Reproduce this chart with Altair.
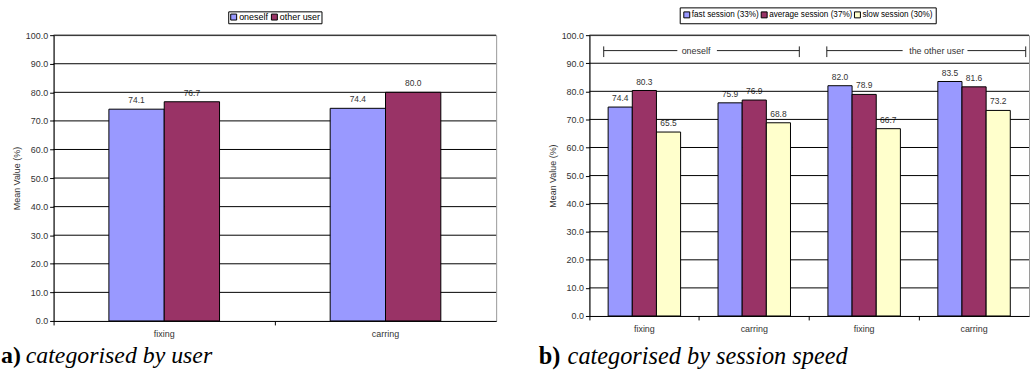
import altair as alt
import pandas as pd

SANS = "Liberation Sans"
SERIF = "Liberation Serif"

# ---- panel a: categorised by user ----
a_tasks = ["fixing", "carring"]
a_series = ["oneself", "other user"]
a_oneself = [74.1, 74.4]
a_other = [76.7, 80.0]
a_colors = ["#9999FF", "#993366"]

# ---- panel b: categorised by session speed ----
b_groups = ["oneself", "oneself", "the other user", "the other user"]
b_tasks = ["fixing", "carring", "fixing", "carring"]
b_series = ["fast session (33%)", "average session (37%)", "slow session (30%)"]
b_fast = [74.4, 75.9, 82.0, 83.5]
b_average = [80.3, 76.9, 78.9, 81.6]
b_slow = [65.5, 68.8, 66.7, 73.2]
b_colors = ["#9999FF", "#993366", "#FFFFCC"]

y_ticks = [0, 10, 20, 30, 40, 50, 60, 70, 80, 90, 100]


def long_table(cats, series, columns):
    rows = []
    for s, vals in zip(series, columns):
        for c, v in zip(cats, vals):
            rows.append({"cat": c, "series": s, "value": v})
    return pd.DataFrame(rows)


a_cats = a_tasks
a_df = long_table(a_cats, a_series, [a_oneself, a_other])

b_cats = [f"{g}|{t}" for g, t in zip(b_groups, b_tasks)]
b_df = long_table(b_cats, b_series, [b_fast, b_average, b_slow])

Y_SCALE = alt.Scale(domain=[0, 100], nice=False, zero=True)
Y_AXIS = alt.Axis(
    values=y_ticks, format=".1f", title="Mean Value (%)", grid=False,
    labelFont=SANS, labelFontSize=9, labelColor="#333", labelPadding=2,
    labelOverlap=False, labelBound=False,
    titleFont=SANS, titleFontSize=9, titleFontWeight="normal",
    titleColor="#333", titlePadding=4,
    domainColor="black", tickColor="black", tickSize=4,
)


def y_at(v):
    return alt.Y(datum=v, type="quantitative", scale=Y_SCALE, axis=Y_AXIS)


def panel(df, cats, series, colors, group_pad, legend, label_expr=None):
    x_axis = alt.Axis(
        title=None, bandPosition=0, labelAngle=0,
        labelFont=SANS, labelFontSize=9, labelColor="#333", labelPadding=5,
        domainColor="black", tickColor="black", tickSize=4,
        **({"labelExpr": label_expr} if label_expr else {}),
    )
    x_scale = alt.Scale(domain=cats, paddingInner=0, paddingOuter=0)

    def xenc(field, **kw):
        return alt.X(f"{field}:N", scale=x_scale, axis=x_axis, **kw)

    y_enc = alt.Y("value:Q", scale=Y_SCALE, axis=Y_AXIS)
    # outer padding of the series offset leaves the gap around each bar group
    xoff = alt.XOffset(
        "series:N", sort=series,
        scale=alt.Scale(domain=series, paddingInner=0,
                        paddingOuter=alt.ExprRef(str(group_pad))),
    )
    color = alt.Color(
        "series:N",
        scale=alt.Scale(domain=series, range=colors),
        legend=alt.Legend(
            title=None, orient="none", direction="horizontal",
            symbolType="square", symbolSize=36,
            symbolStrokeColor="black", symbolStrokeWidth=1,
            labelFont=SANS, labelColor="black",
            labelOffset=1, columnPadding=0,
            strokeColor="black", fillColor="white",
            **legend,
        ),
    )

    base = alt.Chart(df)
    labels = base.mark_text(
        baseline="bottom", dy=-4, font=SANS, fontSize=8.5, color="#333"
    ).encode(x=xenc("cat"), xOffset=xoff, y=y_enc,
             text=alt.Text("value:Q", format=".1f"))
    grid = alt.Chart(pd.DataFrame({"value": y_ticks[1:]})).mark_rule(
        color="black", strokeWidth=1
    ).encode(y=y_enc)
    bars = base.mark_bar(stroke="black", strokeWidth=1).encode(
        x=xenc("cat"), xOffset=xoff, y=y_enc, color=color
    )
    return [labels, grid, bars], xenc


# panel a
a_layers, a_x = panel(
    a_df, a_cats, a_series, a_colors, 1.25,
    dict(legendX=176, legendY=-24, labelFontSize=9, padding=1),
)
a_caption = [
    alt.Chart().mark_text(text="a)", font=SERIF, fontSize=24, fontWeight="bold",
                          align="left", baseline="alphabetic", color="black")
    .encode(x=alt.value(-53), y=alt.value(330)),
    alt.Chart().mark_text(text="categorised by user", font=SERIF, fontSize=24,
                          fontStyle="italic", align="left", baseline="alphabetic",
                          color="black")
    .encode(x=alt.value(-28), y=alt.value(330)),
]
left = alt.layer(*a_layers, *a_caption).properties(width=446, height=288)

# panel b
b_layers, b_x = panel(
    b_df, b_cats, b_series, b_colors, 0.775,
    dict(legendX=91, legendY=-28, labelFontSize=8.2, padding=3),
    label_expr="split(datum.label, '|')[1]",
)

# group brackets spanning the two tasks of each user
br_df = pd.DataFrame({
    "label": ["oneself", "the other user"],
    "start": [b_cats[0], b_cats[2]],
    "end": [b_cats[1], b_cats[3]],
})
BR_STYLE = dict(color="#222", strokeWidth=1)
# (label, bracket start in first band, gap start in first band,
#  gap end in second band, bracket end in second band,
#  field and band position for the caption text)
bracket_geometry = [
    ("oneself", 0.13, 0.80, 0.16, 0.91, "start", 0.97),
    ("the other user", 0.16, 0.85, 0.44, 0.97, "end", 0.16),
]
bracket_layers = []
for name, b0, gap_a, gap_b, b1, text_field, text_pos in bracket_geometry:
    sel = alt.Chart(br_df).transform_filter(alt.datum.label == name)
    bracket_layers += [
        sel.mark_rule(**BR_STYLE).encode(
            x=b_x("start", bandPosition=b0),
            x2=alt.X2("start:N", bandPosition=gap_a), y=y_at(94.5)),
        sel.mark_rule(**BR_STYLE).encode(
            x=b_x("end", bandPosition=gap_b),
            x2=alt.X2("end:N", bandPosition=b1), y=y_at(94.5)),
        sel.mark_rule(**BR_STYLE).encode(
            x=b_x("start", bandPosition=b0), y=y_at(92.2), y2=alt.Y2(datum=96.0)),
        sel.mark_rule(**BR_STYLE).encode(
            x=b_x("end", bandPosition=b1), y=y_at(92.2), y2=alt.Y2(datum=96.0)),
        sel.mark_text(font=SANS, fontSize=9, color="#333", baseline="middle").encode(
            x=b_x(text_field, bandPosition=text_pos), y=y_at(94.5), text="label:N"),
    ]

b_caption = [
    alt.Chart().mark_text(text="b)", font=SERIF, fontSize=24.5, fontWeight="bold",
                          align="left", baseline="alphabetic", color="black")
    .encode(x=alt.value(-51), y=alt.value(331)),
    alt.Chart().mark_text(text="categorised by session speed", font=SERIF,
                          fontSize=24.5, fontStyle="italic", align="left",
                          baseline="alphabetic", color="black")
    .encode(x=alt.value(-22), y=alt.value(331)),
]
right = alt.layer(*b_layers, *bracket_layers, *b_caption).properties(
    width=443, height=283
)

chart = (
    alt.hconcat(left, right, spacing=94, bounds="flush")
    .resolve_scale(x="independent", y="independent", xOffset="independent",
                   color="independent")
    .resolve_legend(color="independent")
    .properties(padding={"left": 0, "top": 5, "right": 0, "bottom": 0},
                background="white")
    .configure_view(stroke="#999", strokeWidth=1)
)

chart.save("out.html", embed_options={"renderer": "svg", "actions": False})
